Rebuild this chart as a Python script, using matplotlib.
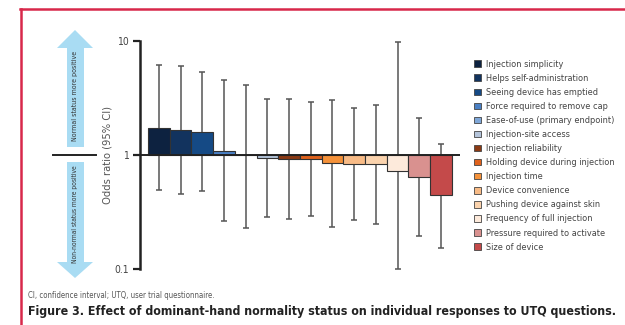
import matplotlib
matplotlib.use("Agg")
import matplotlib.pyplot as plt
from matplotlib.patches import Patch, Polygon
from matplotlib.lines import Line2D
import numpy as np

plt.rcParams['font.family'] = ['DejaVu Sans']
plt.rcParams['font.stretch'] = 'condensed'

# data
questions = ['Injection simplicity', 'Helps self-administration', 'Seeing device has emptied',
             'Force required to remove cap', 'Ease-of-use (primary endpoint)', 'Injection-site access',
             'Injection reliability', 'Holding device during injection', 'Injection time',
             'Device convenience', 'Pushing device against skin', 'Frequency of full injection',
             'Pressure required to activate', 'Size of device']
odds_ratio = [1.72, 1.67, 1.59, 1.09, 1.0, 0.94, 0.93, 0.93, 0.845, 0.83, 0.83, 0.73, 0.64, 0.447]
ci_low = [0.49, 0.46, 0.48, 0.267, 0.231, 0.287, 0.274, 0.291, 0.236, 0.268, 0.251, 0.10, 0.197, 0.155]
ci_high = [6.12, 5.97, 5.28, 4.5, 4.07, 3.11, 3.09, 2.91, 3.03, 2.56, 2.72, 9.67, 2.09, 1.26]
colors = ['#0d2240', '#12335e', '#154a85', '#4a80c4', '#7fa7d8', '#b4c4da', '#8b3a14',
          '#e0621c', '#f5923a', '#f8bb86', '#fbd3ad', '#fdeadb', '#d9918f', '#c44a4a']
y_ticks = [0.1, 1, 10]
y_ticklabels = ['0.1', '1', '10']

W, H = 625, 325
fig = plt.figure(figsize=(W / 100, H / 100), dpi=100)

def px(x, y):
    # pixel position (from top-left) -> inches
    return (x / 100, (H - y) / 100)

ax = fig.add_axes([140 / W, 1 - 269.3 / H, 320 / W, (269.3 - 40.7) / H])
x = np.arange(len(questions))
vals = np.array(odds_ratio)
lo = vals - np.array(ci_low)
hi = np.array(ci_high) - vals

ax.errorbar(x, vals, yerr=[lo, hi], fmt='none', ecolor='#555555', elinewidth=1.1,
            capsize=2.5, capthick=1.1, zorder=1)
ax.bar(x, vals - 1, bottom=1, width=1.0, color=colors, edgecolor='#333333',
       linewidth=0.8, zorder=2)
ax.axhline(1, color='#222222', linewidth=1.4, zorder=3)

ax.set_yscale('log')
ax.set_ylim(0.1, 10)
ax.set_xlim(-0.87, 13.88)
ax.set_yticks(y_ticks)
ax.set_yticklabels(y_ticklabels)
ax.minorticks_off()
ax.tick_params(axis='y', length=5, width=1.6, color='#222222', labelsize=7.5,
               labelcolor='#444444', pad=3)
ax.set_xticks([])
for s in ['top', 'right', 'bottom']:
    ax.spines[s].set_visible(False)
ax.spines['left'].set_linewidth(1.8)
ax.spines['left'].set_color('#222222')
ax.set_ylabel('Odds ratio (95% CI)', fontsize=8, color='#555555', labelpad=1)

# arrows on the left
arrow_c = '#a9dcf3'
up = [px(75, 30), px(57, 48), px(67, 48), px(67, 147), px(84, 147), px(84, 48), px(93, 48)]
down = [px(75, 278), px(57, 262), px(67, 262), px(67, 162), px(84, 162), px(84, 262), px(93, 262)]
for pts in (up, down):
    fig.add_artist(Polygon(pts, closed=True, facecolor=arrow_c, edgecolor='none',
                           transform=fig.dpi_scale_trans))
fig.text(75.5 / W, 1 - 96 / H, 'Normal status more positive', rotation=90, fontsize=5.0,
         color='#333333', ha='center', va='center')
fig.text(75.5 / W, 1 - 214 / H, 'Non-normal status more positive', rotation=90, fontsize=4.8,
         color='#333333', ha='center', va='center')
fig.add_artist(Line2D([53 / 100, 96 / 100], [(H - 155.3) / 100] * 2, color='#222222',
                      linewidth=1.4, transform=fig.dpi_scale_trans))

# legend
handles = [Patch(facecolor=c, edgecolor='#444444', linewidth=0.6) for c in colors]
fig.legend(handles, questions, loc='upper left', bbox_to_anchor=(474 / W, 1 - 60 / H),
           frameon=False, fontsize=6.6, handlelength=0.75, handleheight=0.75,
           handletextpad=0.6, labelspacing=0.55, borderaxespad=0, borderpad=0,
           labelcolor='#444444')

# frame lines
red = '#d8284a'
fig.add_artist(Line2D([20 / 100, W / 100], [(H - 9) / 100] * 2, color=red, linewidth=1.8,
                      transform=fig.dpi_scale_trans))
fig.add_artist(Line2D([21 / 100, 21 / 100], [0, (H - 9) / 100], color=red, linewidth=1.8,
                      transform=fig.dpi_scale_trans))

fig.text(28 / W, 1 - 295 / H, 'CI, confidence interval; UTQ, user trial questionnaire.',
         fontsize=5.6, color='#555555', ha='left', va='center')
title = fig.text(28 / W, 1 - 312 / H,
                 'Figure 3. Effect of dominant-hand normality status on individual responses to UTQ questions.',
                 fontsize=9.6, fontweight='bold', color='#222222', ha='left', va='center')

# shrink the title until it fits the reference width
fig.canvas.draw()
r = fig.canvas.get_renderer()
while title.get_window_extent(r).x1 > 620 and title.get_fontsize() > 5:
    title.set_fontsize(title.get_fontsize() - 0.1)

fig.savefig('out.png', dpi=100)
